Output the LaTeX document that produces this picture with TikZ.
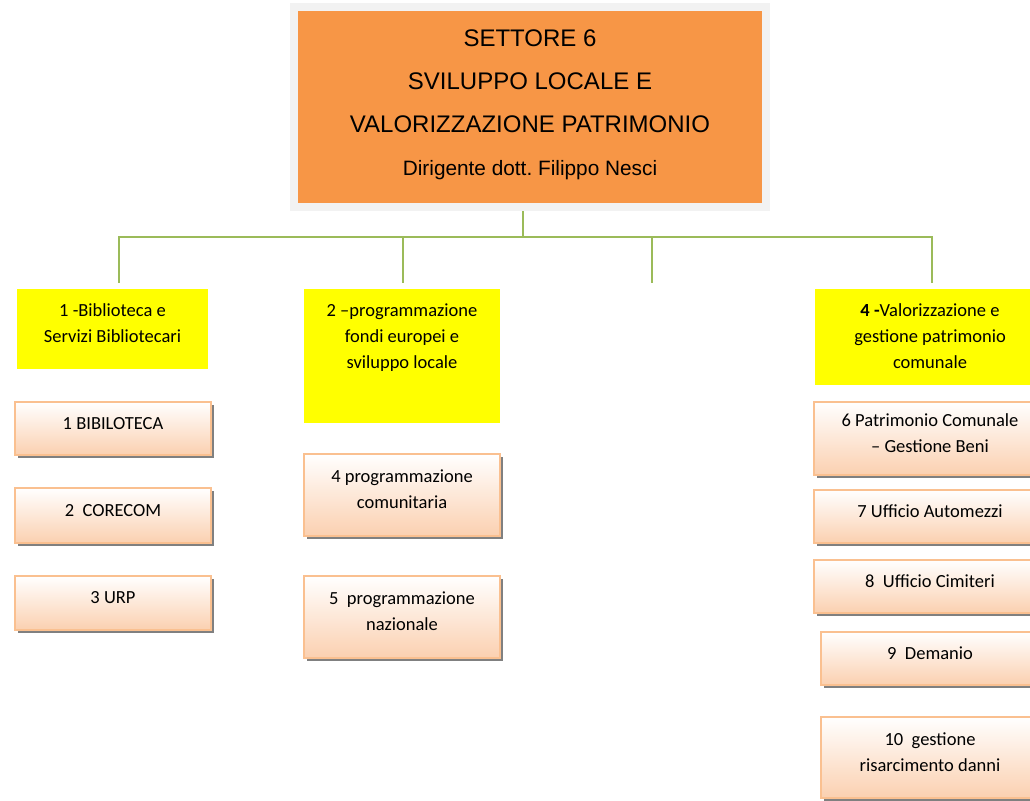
\documentclass[tikz,border=0pt]{standalone}
\usepackage{fontspec}
\setmainfont{Carlito}
\newfontfamily\arialfont{Liberation Sans}
\usetikzlibrary{shadows, positioning}

\definecolor{settorange}{HTML}{F79646}
\definecolor{framegrey}{HTML}{F2F2F2}
\definecolor{linkgreen}{HTML}{9BBB59}
\definecolor{servyellow}{HTML}{FFFF00}
\definecolor{peachline}{HTML}{FAC090}
\definecolor{peachfill}{HTML}{FBD0B0}

\begin{document}
\begin{tikzpicture}[x=1pt, y=-1pt,
    settore/.style={draw=framegrey, line width=8pt, fill=settorange, minimum width=472pt, minimum height=200pt, align=center, text depth=8pt, font=\arialfont\fontsize{24}{43}\selectfont},
    servizio/.style={fill=servyellow, inner sep=0pt},
    servtext/.style={anchor=north, align=center, inner sep=0pt, font=\fontsize{18.5}{26}\selectfont},
    ufficio/.style={draw=peachline, line width=1.5pt, top color=white, bottom color=peachfill, align=center, inner sep=0pt, text depth=11pt, font=\fontsize{18.5}{26}\selectfont, drop shadow={shadow xshift=2.5pt, shadow yshift=-2.5pt, fill=black!50, opacity=1}},
    link/.style={draw=linkgreen, line width=2.5pt}]
        \useasboundingbox (0,0) rectangle (1030,800);

        % settore
        \node[settore] (sett) at (530,107) {SETTORE 6\\ SVILUPPO LOCALE E\\ VALORIZZAZIONE PATRIMONIO\\ \fontsize{20.8}{40}\selectfont Dirigente dott.\ Filippo Nesci};

        % servizi
        \node[servizio, minimum width=191pt, minimum height=80pt] (s1) at (112.5,329) {};
        \node[servizio, minimum width=196pt, minimum height=134pt] (s2) at (402,356) {};
        \node[servizio, minimum width=232pt, minimum height=96pt] (s4) at (931,337) {};
        \node[servtext] (s1t) at ([yshift=-14.5pt]s1.north) {1 -Biblioteca e\\Servizi Bibliotecari};
        \node[servtext] (s2t) at ([yshift=-14.5pt]s2.north) {2 –programmazione\\fondi europei e\\sviluppo locale};
        \node[servtext] (s4t) at ([xshift=-1pt, yshift=-14.5pt]s4.north) {\textbf{4 -}Valorizzazione e\\gestione patrimonio\\comunale};

        % links
        \coordinate (hub) at (523,237);
        \coordinate (d1) at (119,283);
        \coordinate (d2) at (403,283);
        \coordinate (d3) at (652,283);
        \coordinate (d4) at (932,283);
        \draw[link] (hub |- sett.south) -- (hub);
        \foreach \d in {d1,d2,d3,d4}
            \draw[link] (hub) -| (\d);

        % uffici
        \node[ufficio, minimum width=196pt, minimum height=53pt] (u1) at (113,428.5) {1 BIBILOTECA};
        \node[ufficio, minimum width=196pt, minimum height=55pt] (u2) at (113,515.5) {2\ \ CORECOM};
        \node[ufficio, minimum width=196pt, minimum height=54pt] (u3) at (113,603) {3 URP};
        \node[ufficio, minimum width=196pt, minimum height=82pt] (u4) at (402,495) {4 programmazione\\comunitaria};
        \node[ufficio, minimum width=196pt, minimum height=82pt] (u5) at (402,617) {5\ \ programmazione\\nazionale};
        \node[ufficio, minimum width=232pt, minimum height=73pt] (u6) at (930,438.5) {6 Patrimonio Comunale\\– Gestione Beni};
        \node[ufficio, minimum width=232pt, minimum height=53pt] (u7) at (930,516.5) {7 Ufficio Automezzi};
        \node[ufficio, minimum width=232pt, minimum height=53pt] (u8) at (930,586.5) {8\ \ Ufficio Cimiteri};
        \node[ufficio, minimum width=218pt, minimum height=53pt] (u9) at (930,658.5) {9\ \ Demanio};
        \node[ufficio, minimum width=218pt, minimum height=81pt] (u10) at (930,757.5) {10\ \ gestione\\risarcimento danni};
    \end{tikzpicture}
\end{document}
